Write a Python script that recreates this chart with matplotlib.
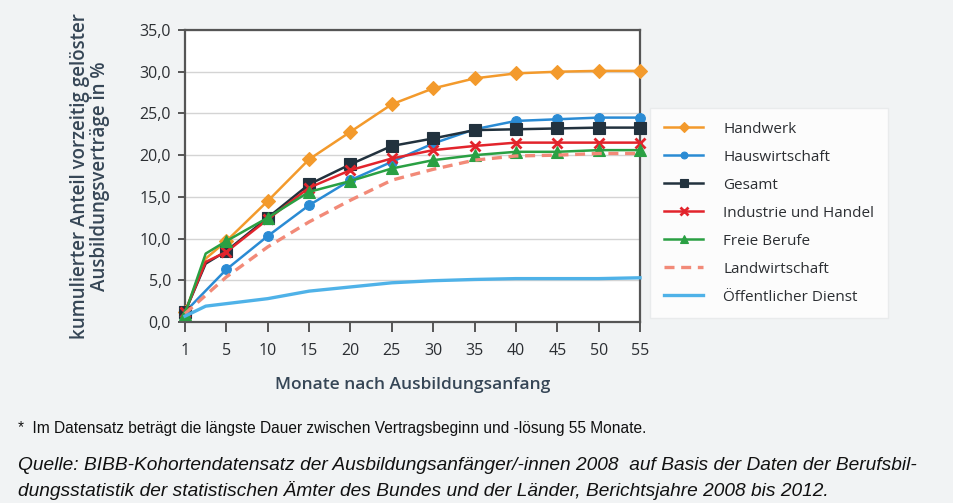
import numpy as np
import matplotlib
matplotlib.use("Agg")
import matplotlib.pyplot as plt

# ================= Daten =================
monate = [1, 5, 10, 15, 20, 25, 30, 35, 40, 45, 50, 55]
monate_knick = [1, 3, 5, 10, 15, 20, 25, 30, 35, 40, 45, 50, 55]

handwerk = [1.2, 7.6, 9.7, 14.5, 19.5, 22.8, 26.1, 28.0, 29.2, 29.8, 30.0, 30.1, 30.1]
hauswirtschaft = [1.2, 6.3, 10.3, 14.0, 17.0, 19.2, 21.4, 23.1, 24.1, 24.3, 24.5, 24.5]
gesamt = [1.2, 7.0, 8.5, 12.5, 16.5, 18.9, 21.1, 22.0, 23.0, 23.1, 23.2, 23.3, 23.3]
industrie = [1.2, 7.2, 8.4, 12.3, 16.1, 18.2, 19.6, 20.6, 21.1, 21.5, 21.5, 21.5, 21.5]
freie = [1.0, 8.2, 9.7, 12.5, 15.6, 16.9, 18.4, 19.4, 20.0, 20.4, 20.4, 20.6, 20.6]
landwirtschaft = [1.0, 5.4, 9.0, 12.0, 14.6, 17.0, 18.3, 19.4, 19.9, 20.0, 20.2, 20.2]
oeffentlich = [0.7, 1.9, 2.2, 2.8, 3.7, 4.2, 4.7, 4.95, 5.1, 5.2, 5.2, 5.2, 5.3]

y_ticks = [0, 5, 10, 15, 20, 25, 30, 35]

# ================= Layout =================
plt.rcParams['font.family'] = ['Open Sans', 'DejaVu Sans']
txt = '#2c2f33'
spine_c = '#555555'

fig = plt.figure(figsize=(9.54, 5.03), dpi=100)
fig.patch.set_facecolor('#f1f3f4')
ax = fig.add_axes([185/954, 1-322/503, (640-185)/954, (322-30)/503])
ax.set_facecolor('white')


def pos(m):
    # kategoriale Achse: 1,5,10,...,55 gleichabständig
    return np.interp(m, monate, np.arange(len(monate)))


def marks(m):
    return [i for i, v in enumerate(m) if v in monate]


series = [
    ("Handwerk", monate_knick, handwerk, '#f39a2c', 'D', '-', 7.5),
    ("Hauswirtschaft", monate, hauswirtschaft, '#2a8bd4', 'o', '-', 7),
    ("Gesamt", monate_knick, gesamt, '#22323e', 's', '-', 8),
    ("Industrie und Handel", monate_knick, industrie, '#e2242c', 'x', '-', 7.5),
    ("Freie Berufe", monate_knick, freie, '#2aa043', '^', '-', 9),
    ("Landwirtschaft", monate, landwirtschaft, '#f28a78', None, (0, (3, 2)), 0),
    ("Öffentlicher Dienst", monate_knick, oeffentlich, '#4fb2e8', None, '-', 0),
]

for name, m, v, c, mk, ls, ms in series:
    kw = dict(color=c, linestyle=ls, label=name, clip_on=False, zorder=3)
    if mk:
        kw.update(marker=mk, markersize=ms, markevery=marks(m),
                  markeredgewidth=2 if mk == 'x' else 0.8, markeredgecolor=c)
        ax.plot(pos(m), v, linewidth=1.8, **kw)
    else:
        ax.plot(pos(m), v, linewidth=2.4, **kw)

ax.set_xlim(0, len(monate) - 1)
ax.set_ylim(0, 35)
ax.set_xticks(np.arange(len(monate)))
ax.set_xticklabels([str(m) for m in monate])
ax.set_yticks(y_ticks)
ax.set_yticklabels([f"{t:.1f}".replace('.', ',') for t in y_ticks])
ax.yaxis.grid(True, color='#d4d4d4', linewidth=1)
ax.set_axisbelow(True)
for s in ax.spines.values():
    s.set_color(spine_c)
    s.set_linewidth(1.6)
ax.tick_params(axis='x', length=7, width=1.4, color=spine_c, labelsize=11.5, labelcolor=txt, pad=8)
ax.tick_params(axis='y', length=5, width=1.4, color=spine_c, labelsize=11.5, labelcolor=txt, pad=5)

ax.set_xlabel("Monate nach Ausbildungsanfang", fontsize=12.5, color='#364656',
              labelpad=13, fontweight='semibold')
ax.set_ylabel("kumulierter Anteil vorzeitig gelöster\nAusbildungsverträge in %",
              fontsize=13.5, color='#364656', labelpad=21, linespacing=1.05,
              fontweight='semibold')

leg = fig.legend(loc='upper left', bbox_to_anchor=(650/954, 1-108/503),
                 fontsize=11, frameon=True, fancybox=False, handlelength=2.6,
                 handletextpad=1.3, labelspacing=0.85, borderpad=0.9, borderaxespad=0,
                 markerscale=0.7)
leg.get_frame().set_facecolor('white')
leg.get_frame().set_edgecolor('#e6e8ea')
for t in leg.get_texts():
    t.set_color(txt)

nfam = ['Liberation Sans', 'DejaVu Sans']
fig.text(18/954, 1-428/503, "*  Im Datensatz beträgt die längste Dauer zwischen Vertragsbeginn und -lösung 55 Monate.",
         fontsize=11.2, color='#111111', family=nfam, va='center')
fig.text(18/954, 1-466/503, "Quelle: BIBB-Kohortendatensatz der Ausbildungsanfänger/-innen 2008  auf Basis der Daten der Berufsbil-",
         fontsize=13.8, color='#111111', family=nfam, style='italic', va='center')
fig.text(18/954, 1-490/503, "dungsstatistik der statistischen Ämter des Bundes und der Länder, Berichtsjahre 2008 bis 2012.",
         fontsize=13.8, color='#111111', family=nfam, style='italic', va='center')

fig.savefig("out.png", dpi=100, facecolor=fig.get_facecolor())
